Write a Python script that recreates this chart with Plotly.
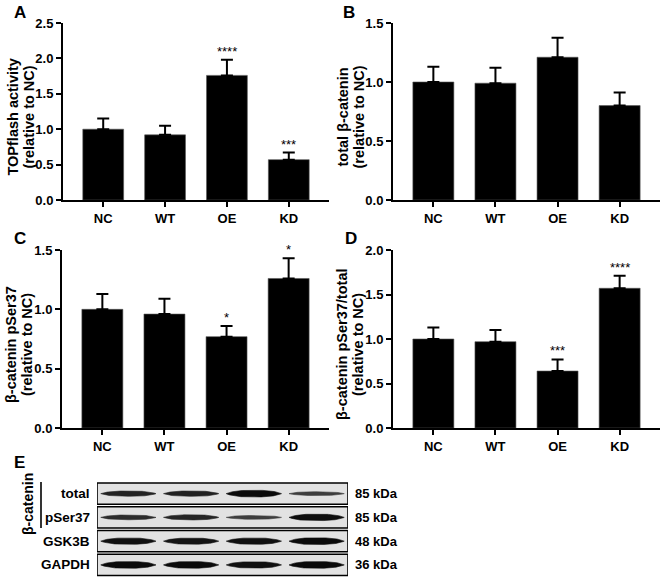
import plotly.graph_objects as go

W, H = 663, 578

categories = ["NC", "WT", "OE", "KD"]

# Panel A: TOPflash activity
a_mean = [1.00, 0.92, 1.76, 0.57]
a_err = [0.15, 0.13, 0.22, 0.10]
a_sig = ["", "", "****", "***"]

# Panel B: total beta-catenin
b_mean = [1.00, 0.99, 1.21, 0.80]
b_err = [0.13, 0.13, 0.165, 0.11]
b_sig = ["", "", "", ""]

# Panel C: beta-catenin pSer37
c_mean = [1.00, 0.96, 0.77, 1.26]
c_err = [0.13, 0.13, 0.09, 0.17]
c_sig = ["", "", "*", "*"]

# Panel D: pSer37/total
d_mean = [1.00, 0.97, 0.64, 1.57]
d_err = [0.13, 0.13, 0.13, 0.14]
d_sig = ["", "", "***", "****"]

y_title_line1 = ["TOPflash activity", "total β-catenin",
                 "β-catenin pSer37", "β-catenin pSer37/total"]
y_title_line2 = ["(relative to NC)"] * 4
y_max = [2.5, 1.5, 1.5, 2.0]
panel_letters = ["A", "B", "C", "D", "E"]

# Panel E: western blot
blot_rows = ["total", "pSer37", "GSK3B", "GAPDH"]
blot_kda = ["85 kDa", "85 kDa", "48 kDa", "36 kDa"]
# relative band strength per lane (NC, WT, OE, KD)
band_total = [0.70, 0.72, 1.00, 0.40]
band_pser = [0.60, 0.68, 0.38, 0.95]
band_gsk = [0.92, 0.88, 0.92, 1.00]
band_gapdh = [1.00, 1.00, 0.92, 1.00]
bands = [band_total, band_pser, band_gsk, band_gapdh]

def px_x(p):
    return p / W

def px_y(p):
    return 1 - p / H

fig = go.Figure()

panels = [(a_mean, a_err, a_sig), (b_mean, b_err, b_sig),
          (c_mean, c_err, c_sig), (d_mean, d_err, d_sig)]
# domains in pixels: (x0, x1, ytop, ybottom)
dom_px = [(63, 329, 23, 200), (393, 660, 23, 200),
          (62, 329, 250, 428), (393, 660, 250, 428)]

FONT = "Liberation Sans, Arial, sans-serif"
TICKFONT = dict(family=FONT, size=13, color="black", weight="bold")
TITLEFONT = dict(family=FONT, size=14.5, color="black", weight="bold")

annotations = []
for i, ((m, e, s), (x0, x1, yt, yb)) in enumerate(zip(panels, dom_px)):
    n = i + 1
    xa = "x" if n == 1 else f"x{n}"
    ya = "y" if n == 1 else f"y{n}"
    fig.add_trace(go.Bar(
        x=categories, y=m, xaxis=xa, yaxis=ya, width=0.66,
        marker=dict(color="black", line=dict(width=0.6, color="#555555")),
        error_y=dict(type="data", symmetric=False, array=e,
                     arrayminus=[0] * len(e), color="black",
                     thickness=2, width=6),
        showlegend=False, hoverinfo="skip"))
    axkey = "xaxis" if n == 1 else f"xaxis{n}"
    aykey = "yaxis" if n == 1 else f"yaxis{n}"
    fig.layout[axkey] = dict(
        domain=[px_x(x0), px_x(x1)], anchor=ya, range=[-0.65, 3.65],
        showline=True, linecolor="black", linewidth=2,
        ticks="outside", ticklen=5, tickwidth=2, tickcolor="black",
        tickfont=TICKFONT, automargin=False,
        showgrid=False, zeroline=False, fixedrange=True)
    fig.layout[aykey] = dict(
        domain=[px_y(yb), px_y(yt)], anchor=xa, range=[0, y_max[i]],
        dtick=0.5, tickformat=".1f",
        showline=True, linecolor="black", linewidth=2,
        ticks="outside", ticklen=5, tickwidth=2, tickcolor="black",
        tickfont=TICKFONT, automargin=False,
        showgrid=False, zeroline=False, fixedrange=True)
    # two-line rotated y-axis title
    yc = (yt + yb) / 2 + 6
    for txt, off in ((y_title_line1[i], 51), (y_title_line2[i], 35)):
        annotations.append(dict(
            x=px_x(x0 - off), y=px_y(yc), xref="paper", yref="paper",
            text=txt, showarrow=False, textangle=-90,
            xanchor="center", yanchor="middle", font=TITLEFONT))
    for c, mv, ev, sv in zip(categories, m, e, s):
        if sv:
            annotations.append(dict(
                x=c, y=mv + ev, xref=xa, yref=ya, text=sv, showarrow=False,
                xanchor="center", yanchor="bottom", yshift=-1,
                font=dict(family=FONT, size=13, color="black")))

# Panel letters
letter_pos = [(12, 1), (341, 1), (12, 227), (343, 227), (12, 451)]
for L, (lx, ly) in zip(panel_letters, letter_pos):
    annotations.append(dict(
        x=px_x(lx), y=px_y(ly), xref="paper", yref="paper", text=L,
        showarrow=False, xanchor="left", yanchor="top",
        font=dict(family=FONT, size=17, color="black", weight="bold")))

# Western blot axis (x5, y5)
fig.layout["xaxis5"] = dict(domain=[px_x(97), px_x(348)], anchor="y5",
                            range=[-0.5, 3.5], visible=False, fixedrange=True)
fig.layout["yaxis5"] = dict(domain=[px_y(577), px_y(482)], anchor="x5",
                            range=[4, 0], visible=False, fixedrange=True)

shapes = []
half_len = 0.44
npts = 61
for r, (row_name, kda, vals) in enumerate(zip(blot_rows, blot_kda, bands)):
    y0, y1 = r + 0.04, r + 0.94
    yc = (y0 + y1) / 2
    shapes.append(dict(type="rect", xref="x5", yref="y5", x0=-0.5, x1=3.5,
                       y0=y0, y1=y1, fillcolor="#e2e2e2",
                       line=dict(color="black", width=1.6), layer="below"))
    for lane, v in enumerate(vals):
        xs, ys = [], []
        us = [-1 + 2 * k / (npts - 1) for k in range(npts)]
        hmax = 0.04 + 0.10 * v
        for u in us:
            xs.append(lane + half_len * u)
            ys.append(yc - hmax * (1 - abs(u) ** 3) ** 0.9)
        for u in reversed(us):
            xs.append(lane + half_len * u)
            ys.append(yc + hmax * (1 - abs(u) ** 3) ** 0.9)
        g = int(95 - 85 * v)
        col = f"rgb({g},{g},{g})"
        fig.add_trace(go.Scatter(x=xs, y=ys, xaxis="x5", yaxis="y5",
                                 mode="lines", fill="toself", fillcolor=col,
                                 line=dict(width=0.6, color=col),
                                 showlegend=False, hoverinfo="skip"))
    annotations.append(dict(x=px_x(92), y=yc, xref="paper", yref="y5",
                            text=row_name, showarrow=False, xanchor="right",
                            yanchor="middle",
                            font=dict(family=FONT, size=13.5, color="black", weight="bold")))
    annotations.append(dict(x=px_x(353), y=yc, xref="paper", yref="y5",
                            text=kda, showarrow=False, xanchor="left",
                            yanchor="middle",
                            font=dict(family=FONT, size=13, color="black", weight="bold")))

# beta-catenin bracket
annotations.append(dict(x=px_x(28), y=px_y(504), xref="paper", yref="paper",
                        text="β-catenin", showarrow=False, textangle=-90,
                        xanchor="center", yanchor="middle",
                        font=dict(family=FONT, size=14, color="black", weight="bold")))
shapes.append(dict(type="line", xref="paper", yref="paper",
                   x0=px_x(41), x1=px_x(41), y0=px_y(482), y1=px_y(528),
                   line=dict(color="black", width=1.6)))

fig.update_layout(width=W, height=H, margin=dict(l=0, r=0, t=0, b=0),
                  paper_bgcolor="white", plot_bgcolor="white",
                  bargap=0.3, annotations=annotations, shapes=shapes,
                  font=dict(family=FONT, color="black"))

fig.write_html("out.html", config={"displayModeBar": False},
               post_script="document.body.style.margin='0px';document.body.style.padding='0px';")
